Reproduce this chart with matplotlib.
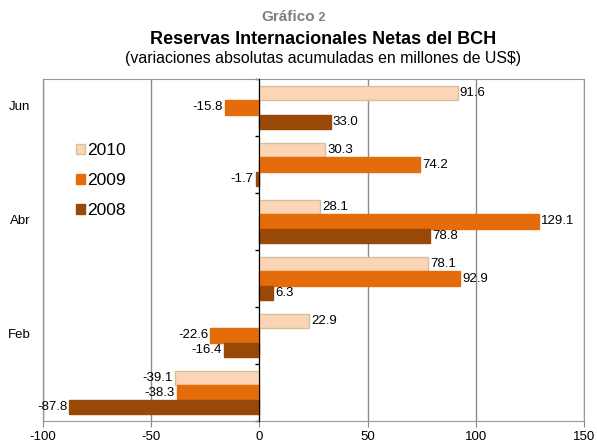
import matplotlib
matplotlib.use("Agg")
import matplotlib.pyplot as plt
import numpy as np

plt.rcParams["font.family"] = ["Liberation Sans", "DejaVu Sans"]

# cumulative net reserve changes, millions US$ (Ene .. Jun)
months = ["Ene", "Feb", "Mar", "Abr", "May", "Jun"]
shown_months = ["Feb", "Abr", "Jun"]
years = ["2010", "2009", "2008"]
vals_2010 = [-39.1, 22.9, 78.1, 28.1, 30.3, 91.6]
vals_2009 = [-38.3, -22.6, 92.9, 129.1, 74.2, -15.8]
vals_2008 = [-87.8, -16.4, 6.3, 78.8, -1.7, 33.0]
x_ticks = [-100, -50, 0, 50, 100, 150]

series = [vals_2010, vals_2009, vals_2008]
colors = ["#FBD5B5", "#E46C0A", "#984807"]
edges = ["#D2C29C", "#E46C0A", "#984807"]

W, H = 597, 447
fig = plt.figure(figsize=(W / 100, H / 100), dpi=100)
ax = fig.add_axes([43 / W, (H - 421) / H, 541 / W, 342 / H])

bar_h = 0.253
pos = np.arange(len(months))
offsets = [bar_h, 0.0, -bar_h]

for vals, off, col, ec, yr in zip(series, offsets, colors, edges, years):
    bars = ax.barh(pos + off, vals, height=bar_h, color=col, edgecolor=ec,
                   linewidth=1, label=yr, zorder=3)
    for b, v in zip(bars, vals):
        yc = b.get_y() + b.get_height() / 2
        if v >= 0:
            ax.annotate(f"{v:.1f}", (v, yc), xytext=(1.5, 0), textcoords="offset points",
                        ha="left", va="center", fontsize=9.5, zorder=5)
        else:
            ax.annotate(f"{v:.1f}", (v, yc), xytext=(-1.5, 0), textcoords="offset points",
                        ha="right", va="center", fontsize=9.5, zorder=5)

ax.set_xlim(x_ticks[0], x_ticks[-1])
ax.set_ylim(-0.5, len(months) - 0.5)
ax.set_xticks(x_ticks)
ax.set_xticklabels([str(t) for t in x_ticks], fontsize=9.5)
ax.tick_params(axis="x", length=4, color="#888888", pad=3)

# y axis crosses at zero, ticks at group boundaries
ax.set_yticks(np.arange(-0.5, len(months), 1.0))
ax.set_yticklabels([])
ax.tick_params(axis="y", length=3, color="black", width=1)
ax.spines["left"].set_position(("data", 0))
ax.spines["left"].set_color("black")
ax.spines["left"].set_zorder(4)
for s in ["top", "right", "bottom"]:
    ax.spines[s].set_color("#999999")
ax.axvline(x_ticks[0], color="#999999", lw=1, clip_on=False, zorder=1)

ax.grid(axis="x", color="#8c8c8c", lw=1)
ax.set_axisbelow(True)

# category labels at the far left (only every other month)
for i, m in enumerate(months):
    if m in shown_months:
        ax.text(-0.043, i, m, transform=ax.get_yaxis_transform(), ha="center",
                va="center", fontsize=9.5)

ax.legend(loc="center left", bbox_to_anchor=(0.061, 0.702), frameon=False,
          fontsize=12.5, handlelength=0.5, handleheight=0.5, handletextpad=0.15,
          labelspacing=0.86, borderpad=0, borderaxespad=0)

fig.text(315 / W, 1 - 17 / H, "Gráfico", ha="right", va="center", fontsize=11,
         fontweight="bold", color="#7f7f7f")
fig.text(315 / W, 1 - 18 / H, " 2", ha="left", va="center", fontsize=9,
         fontweight="bold", color="#7f7f7f")
fig.text(323 / W, 1 - 39 / H, "Reservas Internacionales Netas del BCH", ha="center",
         va="center", fontsize=13, fontweight="bold")
fig.text(323 / W, 1 - 58 / H, "(variaciones absolutas acumuladas en millones de US$)",
         ha="center", va="center", fontsize=11.4)

fig.savefig("out.png", dpi=100)
